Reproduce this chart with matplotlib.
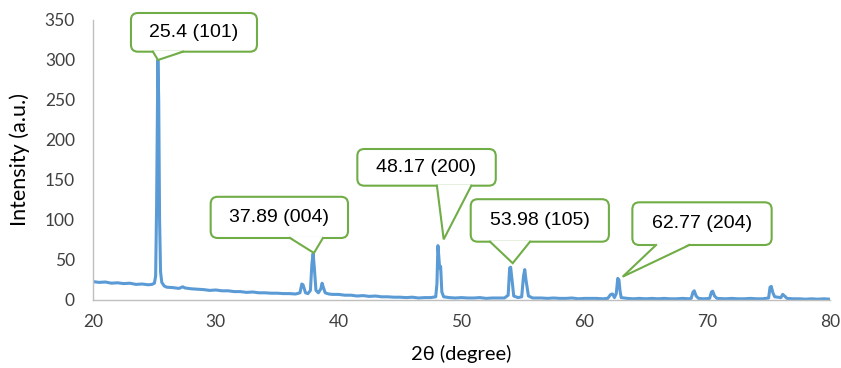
import matplotlib
matplotlib.use("Agg")
import matplotlib.pyplot as plt
from matplotlib.patches import FancyBboxPatch, Polygon
from matplotlib.lines import Line2D

two_theta = [
    20.0, 20.5, 21.0, 21.5, 22.0, 22.5, 23.0, 23.5, 24.0, 24.5, 24.8, 25.0, 25.1, 25.18,
    25.28, 25.35, 25.42, 25.5, 25.6, 25.8, 26.0, 26.5, 27.0, 27.3, 27.5, 28.0, 28.5,
    29.0, 29.5, 30.0, 30.5, 31.0, 31.5, 32.0, 32.5, 33.0, 33.5, 34.0, 34.5, 35.0, 35.5,
    36.0, 36.5, 36.85, 37.0, 37.1, 37.3, 37.5, 37.7, 37.82, 37.92, 38.02, 38.15, 38.35,
    38.55, 38.65, 38.75, 38.9, 39.2, 39.5, 40.0, 40.5, 41.0, 41.5, 42.0, 42.5, 43.0,
    43.5, 44.0, 44.5, 45.0, 45.5, 46.0, 46.5, 47.0, 47.5, 47.9, 48.0, 48.08, 48.15,
    48.22, 48.3, 48.4, 48.55, 49.0, 49.5, 50.0, 50.5, 51.0, 51.5, 52.0, 52.5, 53.0,
    53.5, 53.8, 53.92, 54.0, 54.08, 54.15, 54.25, 54.6, 54.9, 55.05, 55.15, 55.25,
    55.35, 55.45, 55.8, 56.5, 57.0, 57.5, 58.0, 58.5, 59.0, 59.5, 60.0, 60.5, 61.0,
    61.5, 61.9, 62.15, 62.3, 62.45, 62.6, 62.72, 62.82, 62.9, 63.0, 63.5, 64.0, 64.5,
    65.0, 65.5, 66.0, 66.5, 67.0, 67.5, 68.0, 68.5, 68.7, 68.85, 68.95, 69.1, 69.3,
    69.7, 70.2, 70.35, 70.45, 70.6, 70.8, 71.5, 72.0, 72.5, 73.0, 73.5, 74.0, 74.5,
    75.0, 75.12, 75.22, 75.35, 75.5, 76.0, 76.15, 76.3, 76.5, 77.0, 77.5, 78.0, 78.5,
    79.0, 79.5, 80.0,
]
intensity = [
    23.0, 22.0, 22.5, 21.0, 21.5, 20.5, 21.0, 19.5, 20.0, 19.0, 19.5, 21.0, 30.0, 120.0,
    300.0, 250.0, 100.0, 35.0, 22.0, 17.5, 16.0, 15.5, 14.5, 16.5, 15.0, 14.0, 13.5,
    13.0, 12.0, 12.5, 11.5, 11.5, 10.5, 10.5, 9.5, 10.0, 9.0, 9.0, 8.5, 8.5, 8.0,
    8.0, 7.5, 9.0, 20.0, 19.0, 9.0, 8.0, 12.0, 45.0, 58.0, 40.0, 12.0, 9.0,
    14.0, 21.0, 16.0, 9.0, 7.5, 7.0, 7.0, 6.0, 6.0, 5.0, 5.5, 4.5, 5.0,
    4.0, 4.0, 3.5, 3.5, 3.0, 3.5, 2.5, 3.0, 3.0, 4.0, 20.0, 68.0, 55.0,
    40.0, 42.0, 10.0, 4.0, 3.0, 2.5, 3.0, 2.5, 2.5, 3.0, 2.0, 2.5, 2.5,
    2.5, 6.0, 40.0, 41.0, 30.0, 20.0, 5.0, 3.0, 4.0, 30.0, 38.0, 25.0,
    15.0, 5.0, 2.5, 2.5, 2.0, 2.5, 2.0, 2.0, 2.5, 1.5, 2.0, 2.0, 2.0,
    1.5, 2.0, 7.0, 7.5, 3.0, 8.0, 27.0, 25.0, 12.0, 3.0, 2.0, 1.5, 2.0,
    1.5, 2.0, 1.5, 2.0, 1.5, 1.5, 2.0, 1.5, 2.0, 10.0, 11.5, 5.0, 2.0,
    1.5, 2.0, 10.0, 11.0, 5.0, 2.0, 1.5, 2.0, 1.5, 1.5, 2.0, 1.5, 1.5,
    2.5, 16.0, 17.0, 9.0, 4.0, 3.0, 7.0, 5.0, 2.0, 1.5, 1.5, 1.0, 1.5,
    1.0, 1.5, 1.0,
]

x_ticks = [20, 30, 40, 50, 60, 70, 80]
y_ticks = [0, 50, 100, 150, 200, 250, 300, 350]

# peak labels and the points their callouts point at
peak_labels = ["25.4 (101)", "37.89 (004)", "48.17 (200)", "53.98 (105)", "62.77 (204)"]
tip_x = [25.29, 37.99, 48.55, 54.17, 63.12]
tip_y = [300.0, 58.75, 75.8, 46.0, 29.1]

# ---- callout layout (data coords): box x0, x1, y0, y1 and pointer base x0, x1 ----
box_layout = [
    (23.09, 33.35, 310.4, 358.75, 24.88, 27.33),
    (29.58, 40.76, 77.5, 129.0, 36.04, 38.72),
    (41.52, 52.79, 142.9, 188.75, 48.0, 50.8),
    (50.75, 62.0, 72.9, 126.0, 52.32, 55.58),
    (63.91, 75.25, 68.75, 122.1, 65.84, 68.55),
]

LINE_BLUE = "#5B9BD5"
CALLOUT_GREEN = "#70AD47"
AXIS_GRAY = "#BFBFBF"

W, H = 841, 368
fig = plt.figure(figsize=(W / 100, H / 100), dpi=100)
ax_left, ax_right, ax_top, ax_bottom = 93, 830, 20, 300
ax = fig.add_axes([ax_left / W, 1 - ax_bottom / H, (ax_right - ax_left) / W, (ax_bottom - ax_top) / H])

ax.plot(two_theta, intensity, color=LINE_BLUE, lw=2.2, solid_joinstyle="round", zorder=2)

ax.set_xlim(20, 80)
ax.set_ylim(0, 350)
ax.set_xticks(x_ticks)
ax.set_yticks(y_ticks)

tick_font = dict(family=["Lato", "DejaVu Sans"], size=12.5)
ax.set_xticklabels([str(v) for v in x_ticks], **tick_font)
ax.set_yticklabels([str(v) for v in y_ticks], **tick_font)
ax.tick_params(axis="both", length=0, colors="#404040")
ax.tick_params(axis="y", pad=13)
ax.tick_params(axis="x", pad=10)

for side in ["top", "right"]:
    ax.spines[side].set_visible(False)
ax.spines["left"].set_color(AXIS_GRAY)
ax.spines["bottom"].set_color(AXIS_GRAY)
ax.spines["left"].set_linewidth(1.0)
ax.spines["bottom"].set_linewidth(1.0)

ax.set_xlabel("2θ (degree)", family=["Lato", "DejaVu Sans"], size=14.5, color="#000000")
ax.set_ylabel("Intensity (a.u.)", family=["Lato", "DejaVu Sans"], size=15.5, color="#000000")
ax.xaxis.set_label_coords(0.5, (ax_bottom - 354) / (ax_bottom - ax_top))
ax.xaxis.label.set_va("center")
ax.yaxis.set_label_coords((20 - ax_left) / (ax_right - ax_left), 0.5)
ax.yaxis.label.set_va("center")

# ---- callouts ----
pxx = (ax_right - ax_left) / 60.0   # pixels per x unit
pxy = (ax_bottom - ax_top) / 350.0  # pixels per y unit
r_px = 7.0
for label, tx, ty, (bx0, bx1, by0, by1, px0, px1) in zip(peak_labels, tip_x, tip_y, box_layout):
    box = FancyBboxPatch((bx0, by0), bx1 - bx0, by1 - by0,
                         boxstyle=f"round,pad=0,rounding_size={r_px / pxx}",
                         mutation_aspect=pxx / pxy,
                         fc="white", ec=CALLOUT_GREEN, lw=1.5, zorder=5, clip_on=False)
    ax.add_patch(box)
    inset = 1.2 / pxy
    wedge = Polygon([(px0, by0 + inset), (tx, ty), (px1, by0 + inset)], closed=True,
                    fc="white", ec="none", zorder=6, clip_on=False)
    ax.add_patch(wedge)
    ax.add_line(Line2D([px0, tx, px1], [by0, ty, by0], color=CALLOUT_GREEN, lw=1.5,
                       solid_joinstyle="miter", zorder=7, clip_on=False))
    ax.text((bx0 + bx1) / 2, (by0 + by1) / 2, label, ha="center", va="center",
            family=["Liberation Sans", "DejaVu Sans"], size=14, color="#000000", zorder=8)

fig.savefig("out.png", dpi=100)
